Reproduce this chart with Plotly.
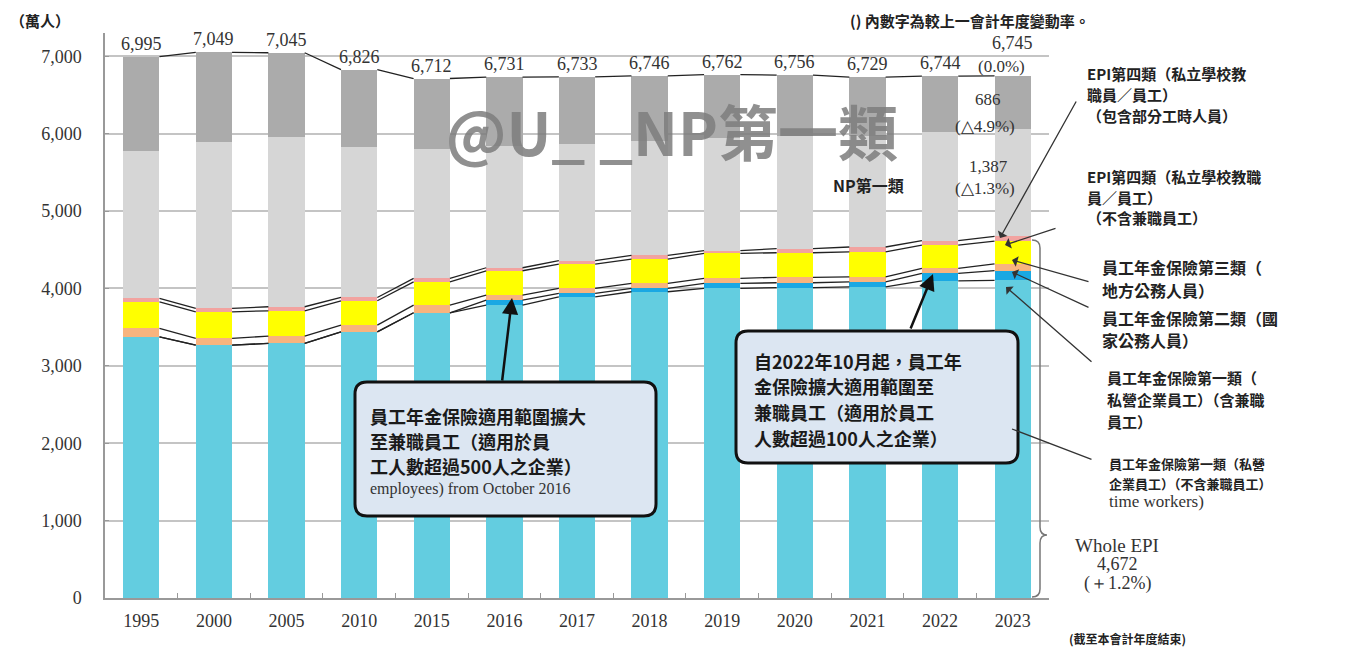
import plotly.graph_objects as go

# ---------------- data (萬人) ----------------
years = ["1995", "2000", "2005", "2010", "2015", "2016", "2017",
         "2018", "2019", "2020", "2021", "2022", "2023"]
epi1_excl_part = [3375, 3268, 3289, 3439, 3685, 3785, 3891, 3957, 4001, 4009, 4020, 4098, 4104]
epi1_part_time = [0, 0, 0, 0, 0, 65, 44, 43, 64, 64, 65, 95, 125]
epi2_national = [108, 86, 95, 87, 99, 64, 65, 64, 65, 70, 65, 65, 88]
epi3_local = [344, 344, 327, 314, 300, 314, 314, 314, 323, 318, 323, 301, 295]
epi4_school = [44, 44, 52, 43, 45, 39, 44, 50, 36, 53, 62, 59, 60]
np1 = [1904, 2154, 2190, 1938, 1668, 1575, 1505, 1471, 1453, 1449, 1431, 1405, 1387]
np3 = [1220, 1153, 1092, 1005, 915, 889, 870, 847, 820, 793, 763, 721, 686]
y_ticks = [0, 1000, 2000, 3000, 4000, 5000, 6000, 7000]
rate_total_2023 = "(0.0%)"
rate_np3_2023 = "(△4.9%)"
rate_np1_2023 = "(△1.3%)"
rate_epi_2023 = "(＋1.2%)"

CJK = "Noto Sans CJK TC"
SERIF = "Liberation Serif"

n = len(years)
xs = list(range(n))

# cumulative boundaries
c1 = epi1_excl_part
c2 = [a + b for a, b in zip(c1, epi1_part_time)]
c3 = [a + b for a, b in zip(c2, epi2_national)]
c4 = [a + b for a, b in zip(c3, epi3_local)]
c5 = [a + b for a, b in zip(c4, epi4_school)]
c6 = [a + b for a, b in zip(c5, np1)]
totals = [a + b for a, b in zip(c6, np3)]

fig = go.Figure()
segments = [
    (epi1_excl_part, "#63cde0"),
    (epi1_part_time, "#1aa8e3"),
    (epi2_national, "#f8b47e"),
    (epi3_local, "#ffff00"),
    (epi4_school, "#f2a3a0"),
    (np1, "#d6d6d6"),
    (np3, "#ababab"),
]
for vals, col in segments:
    fig.add_trace(go.Bar(x=xs, y=vals, width=0.5, marker=dict(color=col, line=dict(width=0)),
                         showlegend=False, hoverinfo="skip"))

# connector lines between bars
half = 0.25
for b in [c1, c2, c3, c4, c5, totals]:
    lx, ly = [], []
    for i in range(n - 1):
        lx += [xs[i] + half, xs[i + 1] - half, None]
        ly += [b[i], b[i + 1], None]
    fig.add_trace(go.Scatter(x=lx, y=ly, mode="lines", line=dict(color="#222", width=1.3),
                             showlegend=False, hoverinfo="skip"))

# ---------------- geometry helpers ----------------
# page body has an 8px margin; plot area sits at window px 105..1049 x 33..598
BODY = 8
FW, FH = 1347 - BODY, 653 - BODY
L, T, W, H = 105, 33, 944, 565


def px(x):
    return (x - L) / W


def py(y):
    return (T + H - y) / H


ann = []


def text(x, y, s, size, family=CJK, color="#222", anchor="left", bold=True):
    ann.append(dict(xref="paper", yref="paper", x=px(x), y=py(y),
                    text=f"<b>{s}</b>" if bold else s, showarrow=False,
                    xanchor=anchor, yanchor="middle",
                    font=dict(family=family, size=size, color=color)))


def arrow(tx, ty, hx, hy, width=1.3, head=1, size=1.4, color="#333"):
    ann.append(dict(xref="paper", yref="paper", x=px(hx), y=py(hy), ax=tx - hx, ay=ty - hy,
                    text="", showarrow=True, arrowhead=head, arrowsize=size,
                    arrowwidth=width, arrowcolor=color))


# total labels above bars
for i, t in enumerate(totals):
    ann.append(dict(xref="x", yref="y", x=xs[i], y=t, text=f"{t:,}", showarrow=False,
                    yanchor="bottom", yshift=(21 if i == n - 1 else 1),
                    font=dict(family=SERIF, size=18, color="#333")))
ann.append(dict(xref="x", yref="y", x=xs[-1] - 0.15, y=totals[-1], text=rate_total_2023,
                showarrow=False, yanchor="bottom", yshift=-2,
                font=dict(family=SERIF, size=17, color="#333")))

# NP values for latest year
text(988, 99, f"{np3[-1]:,}", 17, SERIF, "#333", "center", False)
text(985, 127, rate_np3_2023, 17, SERIF, "#333", "center", False)
text(988, 166, f"{np1[-1]:,}", 17, SERIF, "#333", "center", False)
text(985, 188, rate_np1_2023, 17, SERIF, "#333", "center", False)

# headers
text(40, 20, "（萬人）", 15, anchor="center")
text(848, 20, "() 內數字為較上一會計年度變動率。", 15)
text(868, 185, "NP第一類", 16, anchor="center")
text(1127, 638, "(截至本會計年度結束)", 12, anchor="center")

# watermark
ann.append(dict(xref="paper", yref="paper", x=px(672), y=py(130), text="<b>@U_ _NP第一類</b>",
                showarrow=False, xanchor="center", yanchor="middle",
                font=dict(family=CJK, size=60, color="rgba(125,125,125,0.85)")))

# right-side labels
text(1085, 73, "EPI第四類（私立學校教", 15)
text(1085, 94, "職員／員工）", 15)
text(1085, 115, "（包含部分工時人員）", 15)
text(1085, 176, "EPI第四類（私立學校教職", 15)
text(1085, 197, "員／員工）", 15)
text(1085, 218, "（不含兼職員工）", 15)
text(1100, 267, "員工年金保險第三類（", 16)
text(1100, 290, "地方公務人員）", 16)
text(1100, 318, "員工年金保險第二類（國", 16)
text(1100, 340, "家公務人員）", 16)
text(1105, 377, "員工年金保險第一類（", 15)
text(1105, 399, "私營企業員工）（含兼職", 15)
text(1105, 421, "員工）", 15)
text(1107, 463, "員工年金保險第一類（私營", 13)
text(1107, 483, "企業員工）（不含兼職員工）", 13)
text(1107, 501, "time workers)", 17, SERIF, "#333", "left", False)

text(1117, 545, "Whole EPI", 19, SERIF, "#333", "center", False)
text(1117, 564, f"{c5[-1]:,}", 18, SERIF, "#333", "center", False)
text(1117, 583, rate_epi_2023, 18, SERIF, "#333", "center", False)

# right-side arrows
arrow(1077, 100, 1000, 238)
arrow(1057, 228, 1005, 245)
arrow(1090, 282, 1012, 260)
arrow(1090, 308, 1012, 272)
arrow(1093, 363, 1006, 287)
arrow(1093, 460, 1012, 429, head=0)

# callout boxes text
for k, s in enumerate(["員工年金保險適用範圍擴大", "至兼職員工（適用於員", "工人數超過500人之企業）"]):
    text(368, 416 + 25 * k, s, 18, color="#1a1a1a")
text(368, 489, "employees) from October 2016", 16, SERIF, "#333", "left", False)
for k, s in enumerate(["自2022年10月起，員工年", "金保險擴大適用範圍至", "兼職員工（適用於員工", "人數超過100人之企業）"]):
    text(752, 361 + 25.5 * k, s, 18, color="#1a1a1a")

# callout arrows
arrow(502, 382, 512, 298, width=2.5, head=2, size=1.3, color="#111")
arrow(910, 330, 933, 274, width=2.5, head=2, size=1.3, color="#111")


def rrect(x0, y0, x1, y1, r):
    pts = [f"M {px(x0 + r)},{py(y0)}", f"L {px(x1 - r)},{py(y0)}",
           f"Q {px(x1)},{py(y0)} {px(x1)},{py(y0 + r)}", f"L {px(x1)},{py(y1 - r)}",
           f"Q {px(x1)},{py(y1)} {px(x1 - r)},{py(y1)}", f"L {px(x0 + r)},{py(y1)}",
           f"Q {px(x0)},{py(y1)} {px(x0)},{py(y1 - r)}", f"L {px(x0)},{py(y0 + r)}",
           f"Q {px(x0)},{py(y0)} {px(x0 + r)},{py(y0)}", "Z"]
    return " ".join(pts)


shapes = [
    dict(type="path", xref="paper", yref="paper", path=rrect(355, 382, 656, 516, 12),
         fillcolor="#dce6f2", line=dict(color="#111", width=3), layer="above"),
    dict(type="path", xref="paper", yref="paper", path=rrect(736, 331, 1018, 463, 12),
         fillcolor="#dce6f2", line=dict(color="#111", width=3), layer="above"),
]
# brace for whole EPI
bp = (f"M {px(1032)},{py(240)} Q {px(1040)},{py(240)} {px(1040)},{py(248)} "
      f"L {px(1040)},{py(527)} Q {px(1040)},{py(535)} {px(1047)},{py(535)} "
      f"Q {px(1040)},{py(535)} {px(1040)},{py(543)} L {px(1040)},{py(589)} "
      f"Q {px(1040)},{py(597)} {px(1032)},{py(597)}")
shapes.append(dict(type="path", xref="paper", yref="paper", path=bp,
                   line=dict(color="#777", width=1.5)))

fig.update_layout(
    width=FW, height=FH,
    margin=dict(l=L - BODY, r=FW - (L - BODY) - W, t=T - BODY, b=FH - (T - BODY) - H),
    barmode="stack", bargap=0,
    plot_bgcolor="white", paper_bgcolor="white",
    font=dict(family=CJK, color="#222"),
    showlegend=False,
    annotations=ann, shapes=shapes,
    xaxis=dict(range=[-0.5, n - 0.5], tickvals=xs, ticktext=years, showgrid=False,
               showline=True, linecolor="#999", linewidth=1.5, ticks="", zeroline=False,
               tickfont=dict(family=SERIF, size=18, color="#333"), ticklabelstandoff=6,
               automargin=False, fixedrange=True,
               minor=dict(tickvals=[i + 0.5 for i in range(n - 1)], ticks="inside",
                          ticklen=5, tickcolor="#999", showgrid=False)),
    yaxis=dict(range=[0, 7300], tickvals=y_ticks, tickformat=",d", showgrid=True,
               gridcolor="#c4c4c4", gridwidth=1.5, showline=True, linecolor="#999",
               linewidth=1.5, ticks="inside", ticklen=4, tickcolor="#999", zeroline=False,
               tickfont=dict(family=SERIF, size=18, color="#333"), ticklabelstandoff=18,
               automargin=False, fixedrange=True),
)

fig.write_html("out.html")
